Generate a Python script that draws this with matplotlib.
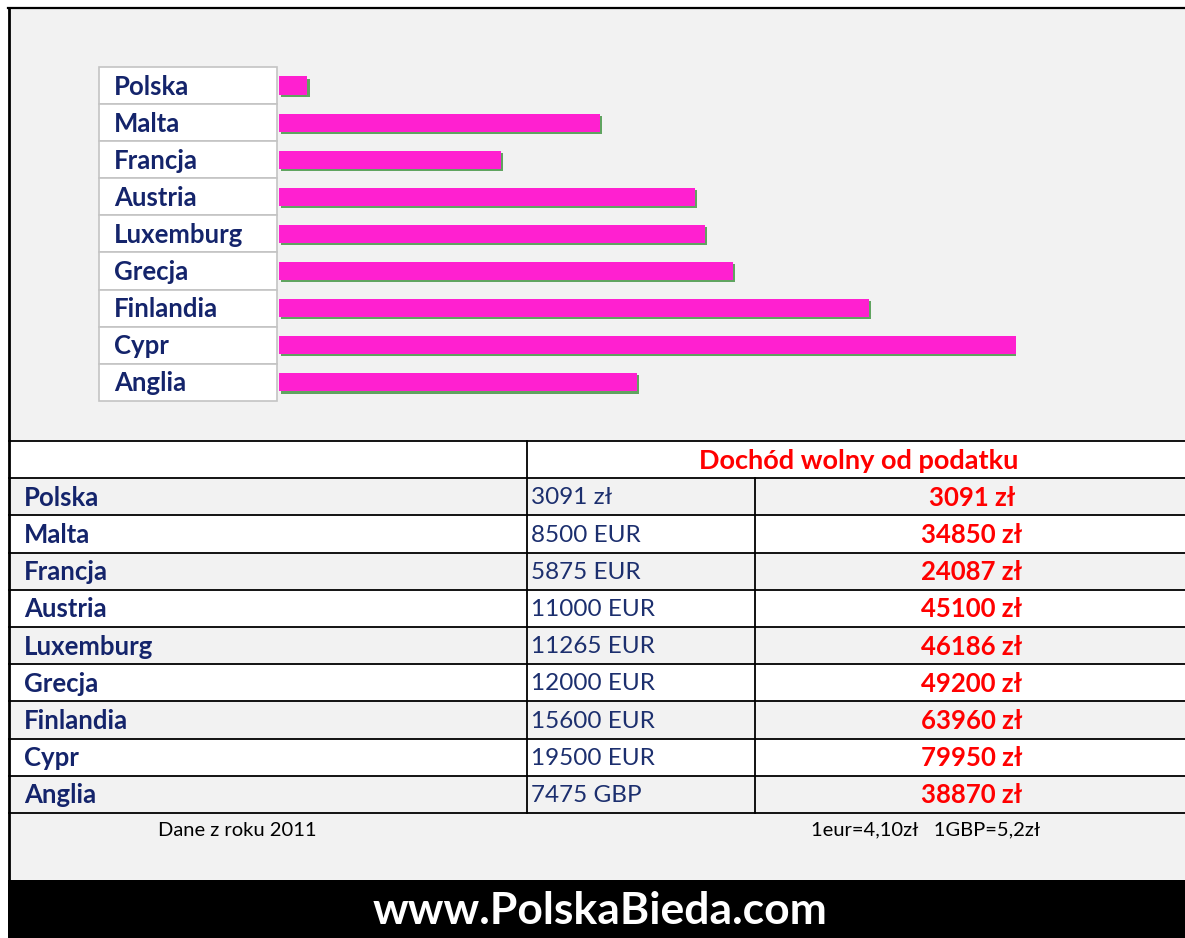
import matplotlib
matplotlib.use("Agg")
import matplotlib.pyplot as plt
import matplotlib.patches as mpatches
import matplotlib.patheffects as pe

plt.rcParams['font.family'] = ['Lato', 'DejaVu Sans']

# data
countries = ["Polska", "Malta", "Francja", "Austria", "Luxemburg",
             "Grecja", "Finlandia", "Cypr", "Anglia"]
local_amount = [3091, 8500, 5875, 11000, 11265, 12000, 15600, 19500, 7475]
local_currency = ["zł", "EUR", "EUR", "EUR", "EUR", "EUR", "EUR", "EUR", "GBP"]
income_pln = [3091, 34850, 24087, 45100, 46186, 49200, 63960, 79950, 38870]

header_text = "Dochód wolny od podatku"
note_left = "Dane z roku 2011"
note_right = "1eur=4,10zł   1GBP=5,2zł"
site = "www.PolskaBieda.com"

NAVY = '#14246b'
RED = '#ff0000'
BG = '#f2f2f2'
MAGENTA = '#ff20d0'

W, H = 1185, 938
fig = plt.figure(figsize=(W / 100, H / 100), dpi=100)
fig.patch.set_facecolor('white')

# overlay axes in pixel coords
ax = fig.add_axes([0, 0, 1, 1])
ax.set_xlim(0, W)
ax.set_ylim(H, 0)
ax.axis('off')

# panel background + frame
ax.add_patch(mpatches.Rectangle((8, 8), W - 8, 872, facecolor=BG, edgecolor='none'))
ax.plot([9, 9], [8, 880], color='black', lw=2)
ax.plot([8, W], [8, 8], color='black', lw=1.6)

# label boxes next to the bars
row_top, row_h = 67, 37.1
for i, c in enumerate(countries):
    y0 = row_top + i * row_h
    ax.add_patch(mpatches.Rectangle((99, y0), 178, row_h, facecolor='white',
                                    edgecolor='#c4c4c4', lw=1.2))
    ax.text(114, y0 + row_h / 2 + 1, c, fontsize=18.5, fontweight='bold',
            color=NAVY, va='center', ha='left')

# table
t_top, t_row = 441, 37.2
n = len(countries)
t_bot = t_top + t_row * (n + 1)
ax.add_patch(mpatches.Rectangle((9, t_top), W - 9, t_row, facecolor='white', edgecolor='none'))
for i in range(n):
    y0 = t_top + t_row * (i + 1)
    fc = BG if i % 2 == 0 else 'white'
    ax.add_patch(mpatches.Rectangle((9, y0), W - 9, t_row, facecolor=fc, edgecolor='none'))
    yc = y0 + t_row / 2 + 1
    ax.text(24, yc, countries[i], fontsize=18.5, fontweight='bold', color=NAVY,
            va='center', ha='left')
    ax.text(531, yc, f"{local_amount[i]} {local_currency[i]}", fontsize=17.5,
            color='#1c2f6e', va='center', ha='left')
    ax.text(972, yc, f"{income_pln[i]} zł", fontsize=18.5, fontweight='bold',
            color=RED, va='center', ha='center')
for k in range(n + 2):
    y = t_top + t_row * k
    ax.plot([9, W], [y, y], color='black', lw=1.3)
ax.plot([527, 527], [t_top, t_bot], color='black', lw=1.3)
ax.plot([755, 755], [t_top + t_row, t_bot], color='black', lw=1.3)
ax.text(859, t_top + t_row / 2 + 1, header_text, fontsize=19.5, fontweight='bold',
        color=RED, va='center', ha='center')

# notes under table
ax.text(237, 830, note_left, fontsize=14.5, color='black', va='center', ha='center')
ax.text(926, 830, note_right, fontsize=14.5, color='black', va='center', ha='center')

# footer band
ax.add_patch(mpatches.Rectangle((8, 880), W - 8, H - 880, facecolor='black', edgecolor='none'))
ax.text(600, 911, site, fontsize=32, fontweight='bold', color='white',
        va='center', ha='center')

# bar chart
bx = fig.add_axes([279 / W, 1 - (row_top + row_h * n) / H, 737.4 / W, row_h * n / H])
bx.patch.set_alpha(0)
bx.barh(range(n), income_pln, height=0.49, color=MAGENTA, edgecolor='none',
        path_effects=[pe.SimplePatchShadow(offset=(1.5, -1.5), shadow_rgbFace='#2f8a2f', alpha=0.75),
                      pe.Normal()])
bx.set_xlim(0, 80000)
bx.set_ylim(n - 0.5, -0.5)
bx.axis('off')

fig.savefig("out.png", dpi=100)
